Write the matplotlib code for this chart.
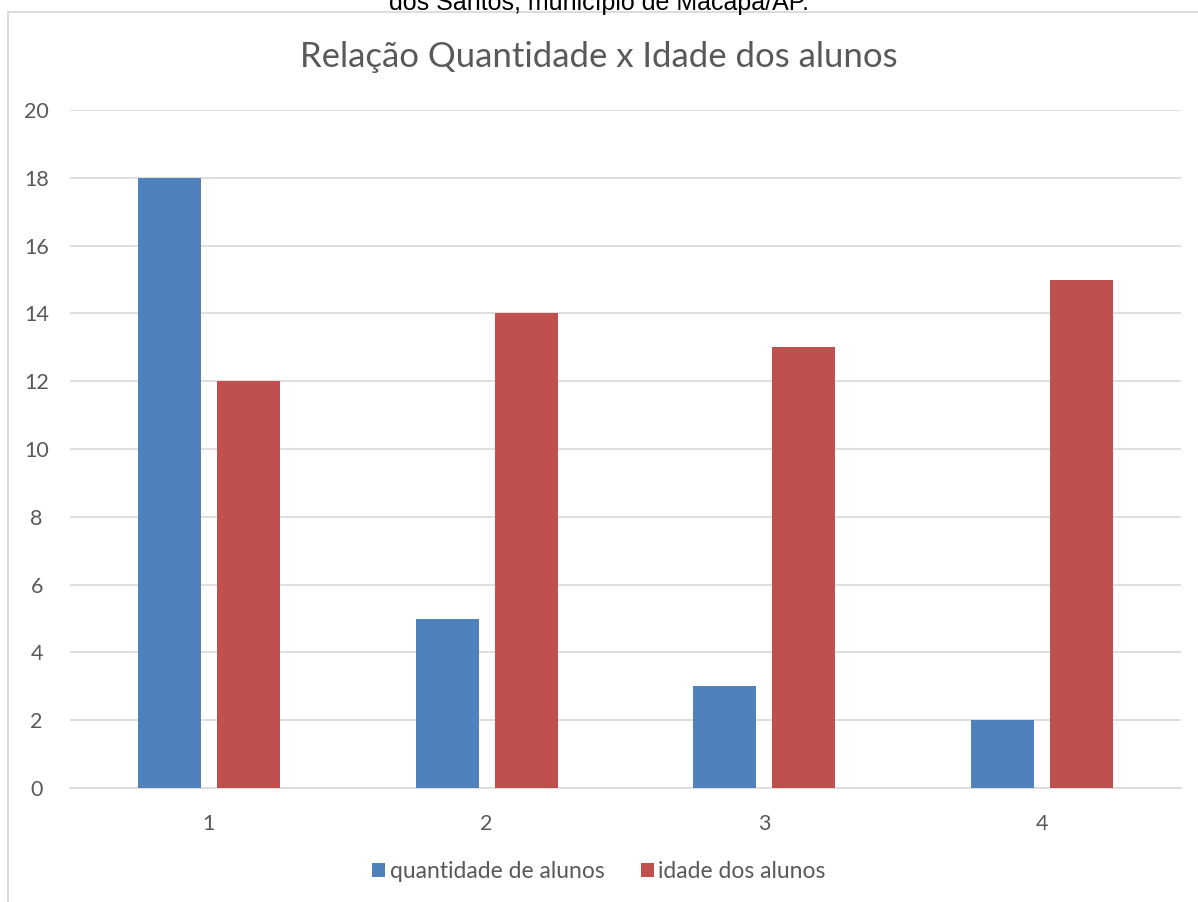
import matplotlib
matplotlib.use("Agg")
import matplotlib.pyplot as plt
import numpy as np
from matplotlib.patches import Patch
from matplotlib.lines import Line2D

categories = ["1", "2", "3", "4"]
quantidade = [18, 5, 3, 2]
idade = [12, 14, 13, 15]
yticks = [0, 2, 4, 6, 8, 10, 12, 14, 16, 18, 20]

W, H = 1198, 902
fig = plt.figure(figsize=(W / 100, H / 100), dpi=100)
plt.rcParams['font.family'] = ['Lato', 'DejaVu Sans']

blue = "#4F81BD"
red = "#C0504D"
txt = "#595959"
grid = "#D9D9D9"

# chart frame
fig.add_artist(Line2D([7.5 / W, 7.5 / W], [0, 1 - 12 / H], transform=fig.transFigure, color="#D9D9D9", lw=1.3))
fig.add_artist(Line2D([7.5 / W, 1], [1 - 12 / H, 1 - 12 / H], transform=fig.transFigure, color="#D9D9D9", lw=1.3))

# cut-off caption at top
fig.text(0.5, 1 - 10 / H, "dos Santos, município de Macapá/AP.", ha="center", va="baseline",
         fontsize=18, family=["Liberation Sans", "DejaVu Sans"], color="black")

ax = fig.add_axes([70 / W, 1 - 788 / H, (1181 - 70) / W, (788 - 110) / H])
x = np.arange(1, len(categories) + 1)
bw = 0.227
off = 0.142
ax.bar(x - off, quantidade, bw, color=blue, zorder=3)
ax.bar(x + off, idade, bw, color=red, zorder=3)

ax.set_xlim(0.5, 4.5)
ax.set_ylim(0, 20)
ax.set_yticks(yticks)
ax.set_xticks(x)
ax.set_xticklabels(categories)
ax.grid(axis="y", color=grid, lw=1.2, zorder=0)
for s in ["top", "right", "left"]:
    ax.spines[s].set_visible(False)
ax.spines["bottom"].set_color(grid)
ax.spines["bottom"].set_linewidth(1.2)
ax.tick_params(axis="both", length=0, colors=txt, labelsize=15.5)
ax.tick_params(axis="y", pad=24)
ax.tick_params(axis="x", pad=19)
for lab in ax.get_yticklabels():
    lab.set_horizontalalignment("center")

fig.text(0.5, 1 - 57 / H, "Relação Quantidade x Idade dos alunos", ha="center", va="center",
         fontsize=25, color=txt)

handles = [Patch(facecolor=blue, label="quantidade de alunos"),
           Patch(facecolor=red, label="idade dos alunos")]
fig.legend(handles=handles, loc="center", bbox_to_anchor=(0.5, 1 - 872 / H), ncol=2, frameon=False,
           fontsize=16.5, labelcolor=txt, handlelength=0.55, handleheight=0.55, handletextpad=0.2,
           columnspacing=1.6)

fig.savefig("out.png", dpi=100)
